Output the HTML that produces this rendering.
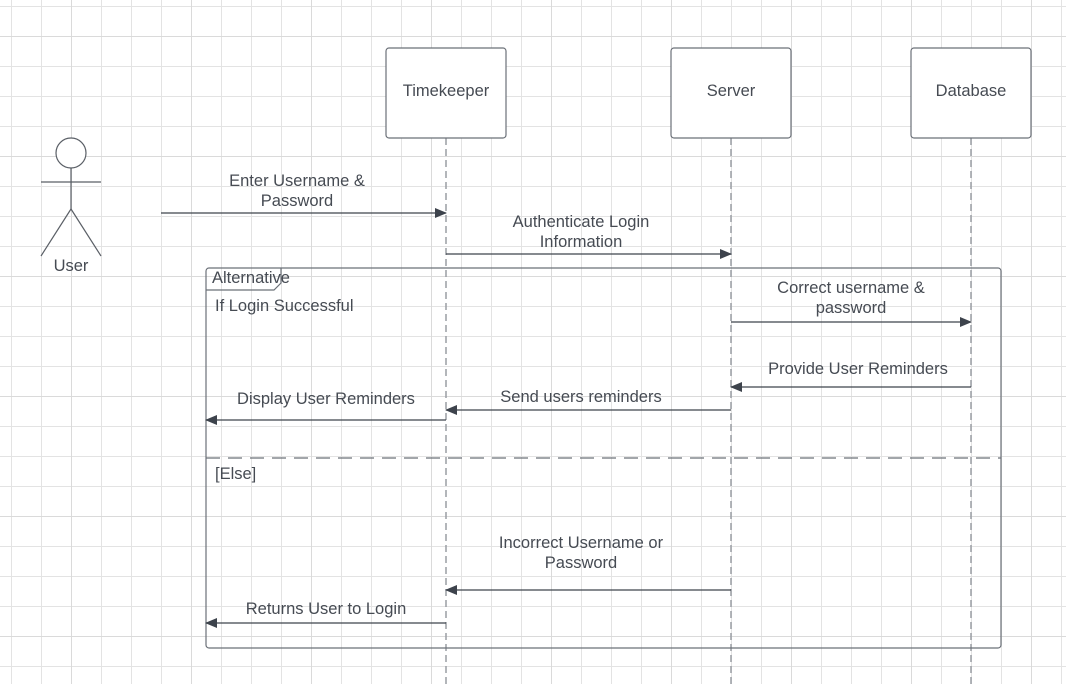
<!DOCTYPE html>
<html><head><meta charset="utf-8"><style>
html,body{margin:0;padding:0;background:#fff;}
svg{display:block;}
text{font-family:"Liberation Sans",Arial,sans-serif;font-size:16.5px;fill:#464b53;}
</style></head><body>
<svg width="1066" height="684" viewBox="0 0 1066 684" xmlns="http://www.w3.org/2000/svg">
<defs>
<pattern id="g" x="11" y="6" width="30" height="30" patternUnits="userSpaceOnUse">
<path d="M0 0.5H30M0.5 0V30" stroke="#e3e3e3" stroke-width="1" fill="none"/>
</pattern>
<pattern id="G" x="71" y="36" width="120" height="120" patternUnits="userSpaceOnUse">
<path d="M0 0.5H120M0.5 0V120" stroke="#dadada" stroke-width="1" fill="none"/>
</pattern>
<marker id="a" markerWidth="12" markerHeight="10" refX="11" refY="5" orient="auto" markerUnits="userSpaceOnUse">
<path d="M0 0L12 5L0 10Z" fill="#3d434c"/>
</marker>
</defs>
<rect width="1066" height="684" fill="url(#g)"/>
<rect width="1066" height="684" fill="url(#G)"/>

<g stroke="#9a9ea4" stroke-width="1.5" stroke-dasharray="7,4">
<line x1="446" y1="138" x2="446" y2="684"/>
<line x1="731" y1="138" x2="731" y2="684"/>
<line x1="971" y1="138" x2="971" y2="684"/>
</g>
<g fill="#fff" stroke="#6b7078" stroke-width="1.2">
<rect x="386" y="48" width="120" height="90" rx="3"/>
<rect x="671" y="48" width="120" height="90" rx="3"/>
<rect x="911" y="48" width="120" height="90" rx="3"/>
</g>
<text x="446" y="96" text-anchor="middle">Timekeeper</text>
<text x="731" y="96" text-anchor="middle">Server</text>
<text x="971" y="96" text-anchor="middle">Database</text>

<g stroke="#5a5f66" stroke-width="1.2" fill="none">
<circle cx="71" cy="153" r="15" fill="#fff"/>
<line x1="41" y1="182" x2="101" y2="182"/>
<line x1="71" y1="168" x2="71" y2="209"/>
<line x1="71" y1="209" x2="41" y2="256"/>
<line x1="71" y1="209" x2="101" y2="256"/>
</g>
<text x="71" y="271" text-anchor="middle">User</text>

<g stroke="#6b7078" stroke-width="1.2" fill="none">
<rect x="206" y="268" width="795" height="380" rx="3"/>
<path d="M206 290H274L281 283V268"/>
<line x1="206" y1="458" x2="1001" y2="458" stroke-dasharray="14,8"/>
</g>
<text x="212" y="283">Alternative</text>
<text x="215" y="311">If Login Successful</text>
<text x="215" y="479">[Else]</text>

<g stroke="#3d434c" stroke-width="1.2" marker-end="url(#a)">
<line x1="161" y1="213" x2="446" y2="213"/>
<line x1="446" y1="254" x2="731" y2="254"/>
<line x1="731" y1="322" x2="971" y2="322"/>
<line x1="971" y1="387" x2="731" y2="387"/>
<line x1="731" y1="410" x2="446" y2="410"/>
<line x1="446" y1="420" x2="206" y2="420"/>
<line x1="731" y1="590" x2="446" y2="590"/>
<line x1="446" y1="623" x2="206" y2="623"/>
</g>
<g text-anchor="middle">
<text x="297" y="186">Enter Username &amp;</text>
<text x="297" y="206">Password</text>
<text x="581" y="227">Authenticate Login</text>
<text x="581" y="247">Information</text>
<text x="851" y="293">Correct username &amp;</text>
<text x="851" y="313">password</text>
<text x="858" y="374">Provide User Reminders</text>
<text x="581" y="402">Send users reminders</text>
<text x="326" y="404">Display User Reminders</text>
<text x="581" y="548">Incorrect Username or</text>
<text x="581" y="568">Password</text>
<text x="326" y="614">Returns User to Login</text>
</g>
</svg>
</body></html>
